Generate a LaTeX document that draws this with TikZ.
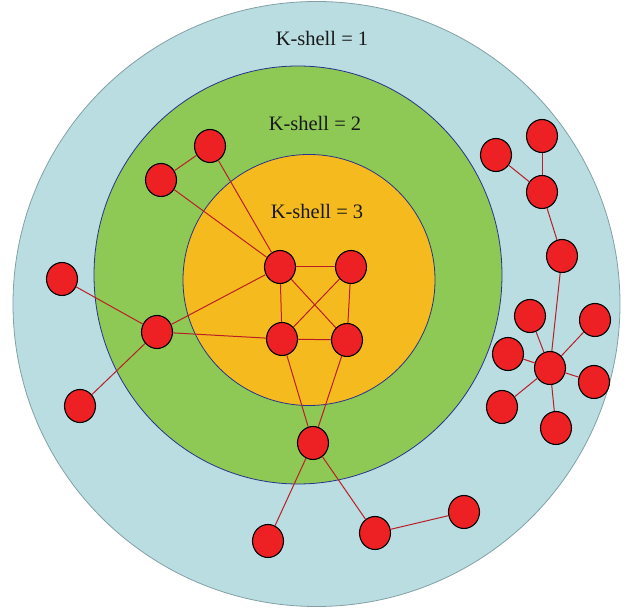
\documentclass[tikz,border=0pt]{standalone}
\usepackage{fontspec}
\setmainfont{Liberation Serif}
\usetikzlibrary{shapes.geometric}
\definecolor{shellone}{RGB}{185,221,225}
\definecolor{shelltwo}{RGB}{141,201,84}
\definecolor{shellthree}{RGB}{245,187,30}
\definecolor{rimblue}{RGB}{40,50,140}
\definecolor{rimgray}{RGB}{130,160,165}
\definecolor{nodered}{RGB}{237,32,36}
\definecolor{edgered}{RGB}{185,30,40}
\tikzset{
  vtx/.style={ellipse,draw=black,line width=1.1pt,fill=nodered,inner sep=0pt,minimum width=31pt,minimum height=33pt},
  lnk/.style={draw=edgered,line width=1pt},
  lab/.style={font=\fontsize{20.5}{22}\selectfont,text=black!90}
}
\begin{document}
\begin{tikzpicture}[x=1pt,y=-1pt]
\useasboundingbox (0,0) rectangle (633,609);
\fill[shellone,draw=rimgray,line width=0.8pt] (316.5,304) ellipse [x radius=303.5,y radius=302.5];
\fill[shelltwo,draw=rimblue,line width=0.8pt] (298,275) ellipse [x radius=204,y radius=209];
\fill[shellthree,draw=rimblue,line width=0.8pt] (309,280) ellipse [x radius=126,y radius=125.5];
\node[lab] (t1) at (322,38) {K-shell = 1};
\node[lab] (t2) at (315,123) {K-shell = 2};
\node[lab] (t3) at (317,211) {K-shell = 3};
% nodes
\node[vtx] (n1) at (210,146) {};
\node[vtx] (n2) at (161,180) {};
\node[vtx] (n3) at (62,279) {};
\node[vtx] (n4) at (157,332) {};
\node[vtx] (n5) at (80,406) {};
\node[vtx] (n6) at (280,267) {};
\node[vtx] (n7) at (351,267) {};
\node[vtx] (n8) at (282,339) {};
\node[vtx] (n9) at (347,340) {};
\node[vtx] (n10) at (313,443) {};
\node[vtx] (n11) at (268,541) {};
\node[vtx] (n12) at (375,533) {};
\node[vtx] (n13) at (464,512) {};
\node[vtx] (n14) at (496,155) {};
\node[vtx] (n15) at (542,136) {};
\node[vtx] (n16) at (542,192) {};
\node[vtx] (n17) at (562,256) {};
\node[vtx] (n18) at (530,316) {};
\node[vtx] (n19) at (595,320) {};
\node[vtx] (n20) at (508,354) {};
\node[vtx] (n21) at (550,368) {};
\node[vtx] (n22) at (594,382) {};
\node[vtx] (n23) at (502,407) {};
\node[vtx] (n24) at (556,428) {};
% edges
\foreach \a/\b in {n1/n2,n1/n6,n2/n6,n3/n4,n4/n6,n4/n8,n4/n5,n6/n7,n6/n8,n6/n9,n7/n8,n7/n9,n8/n9,n8/n10,n9/n10,n10/n11,n10/n12,n12/n13,n14/n16,n15/n16,n16/n17,n17/n21,n18/n21,n19/n21,n20/n21,n22/n21,n23/n21,n24/n21}
  \draw[lnk] (\a) -- (\b);
\end{tikzpicture}
\end{document}
